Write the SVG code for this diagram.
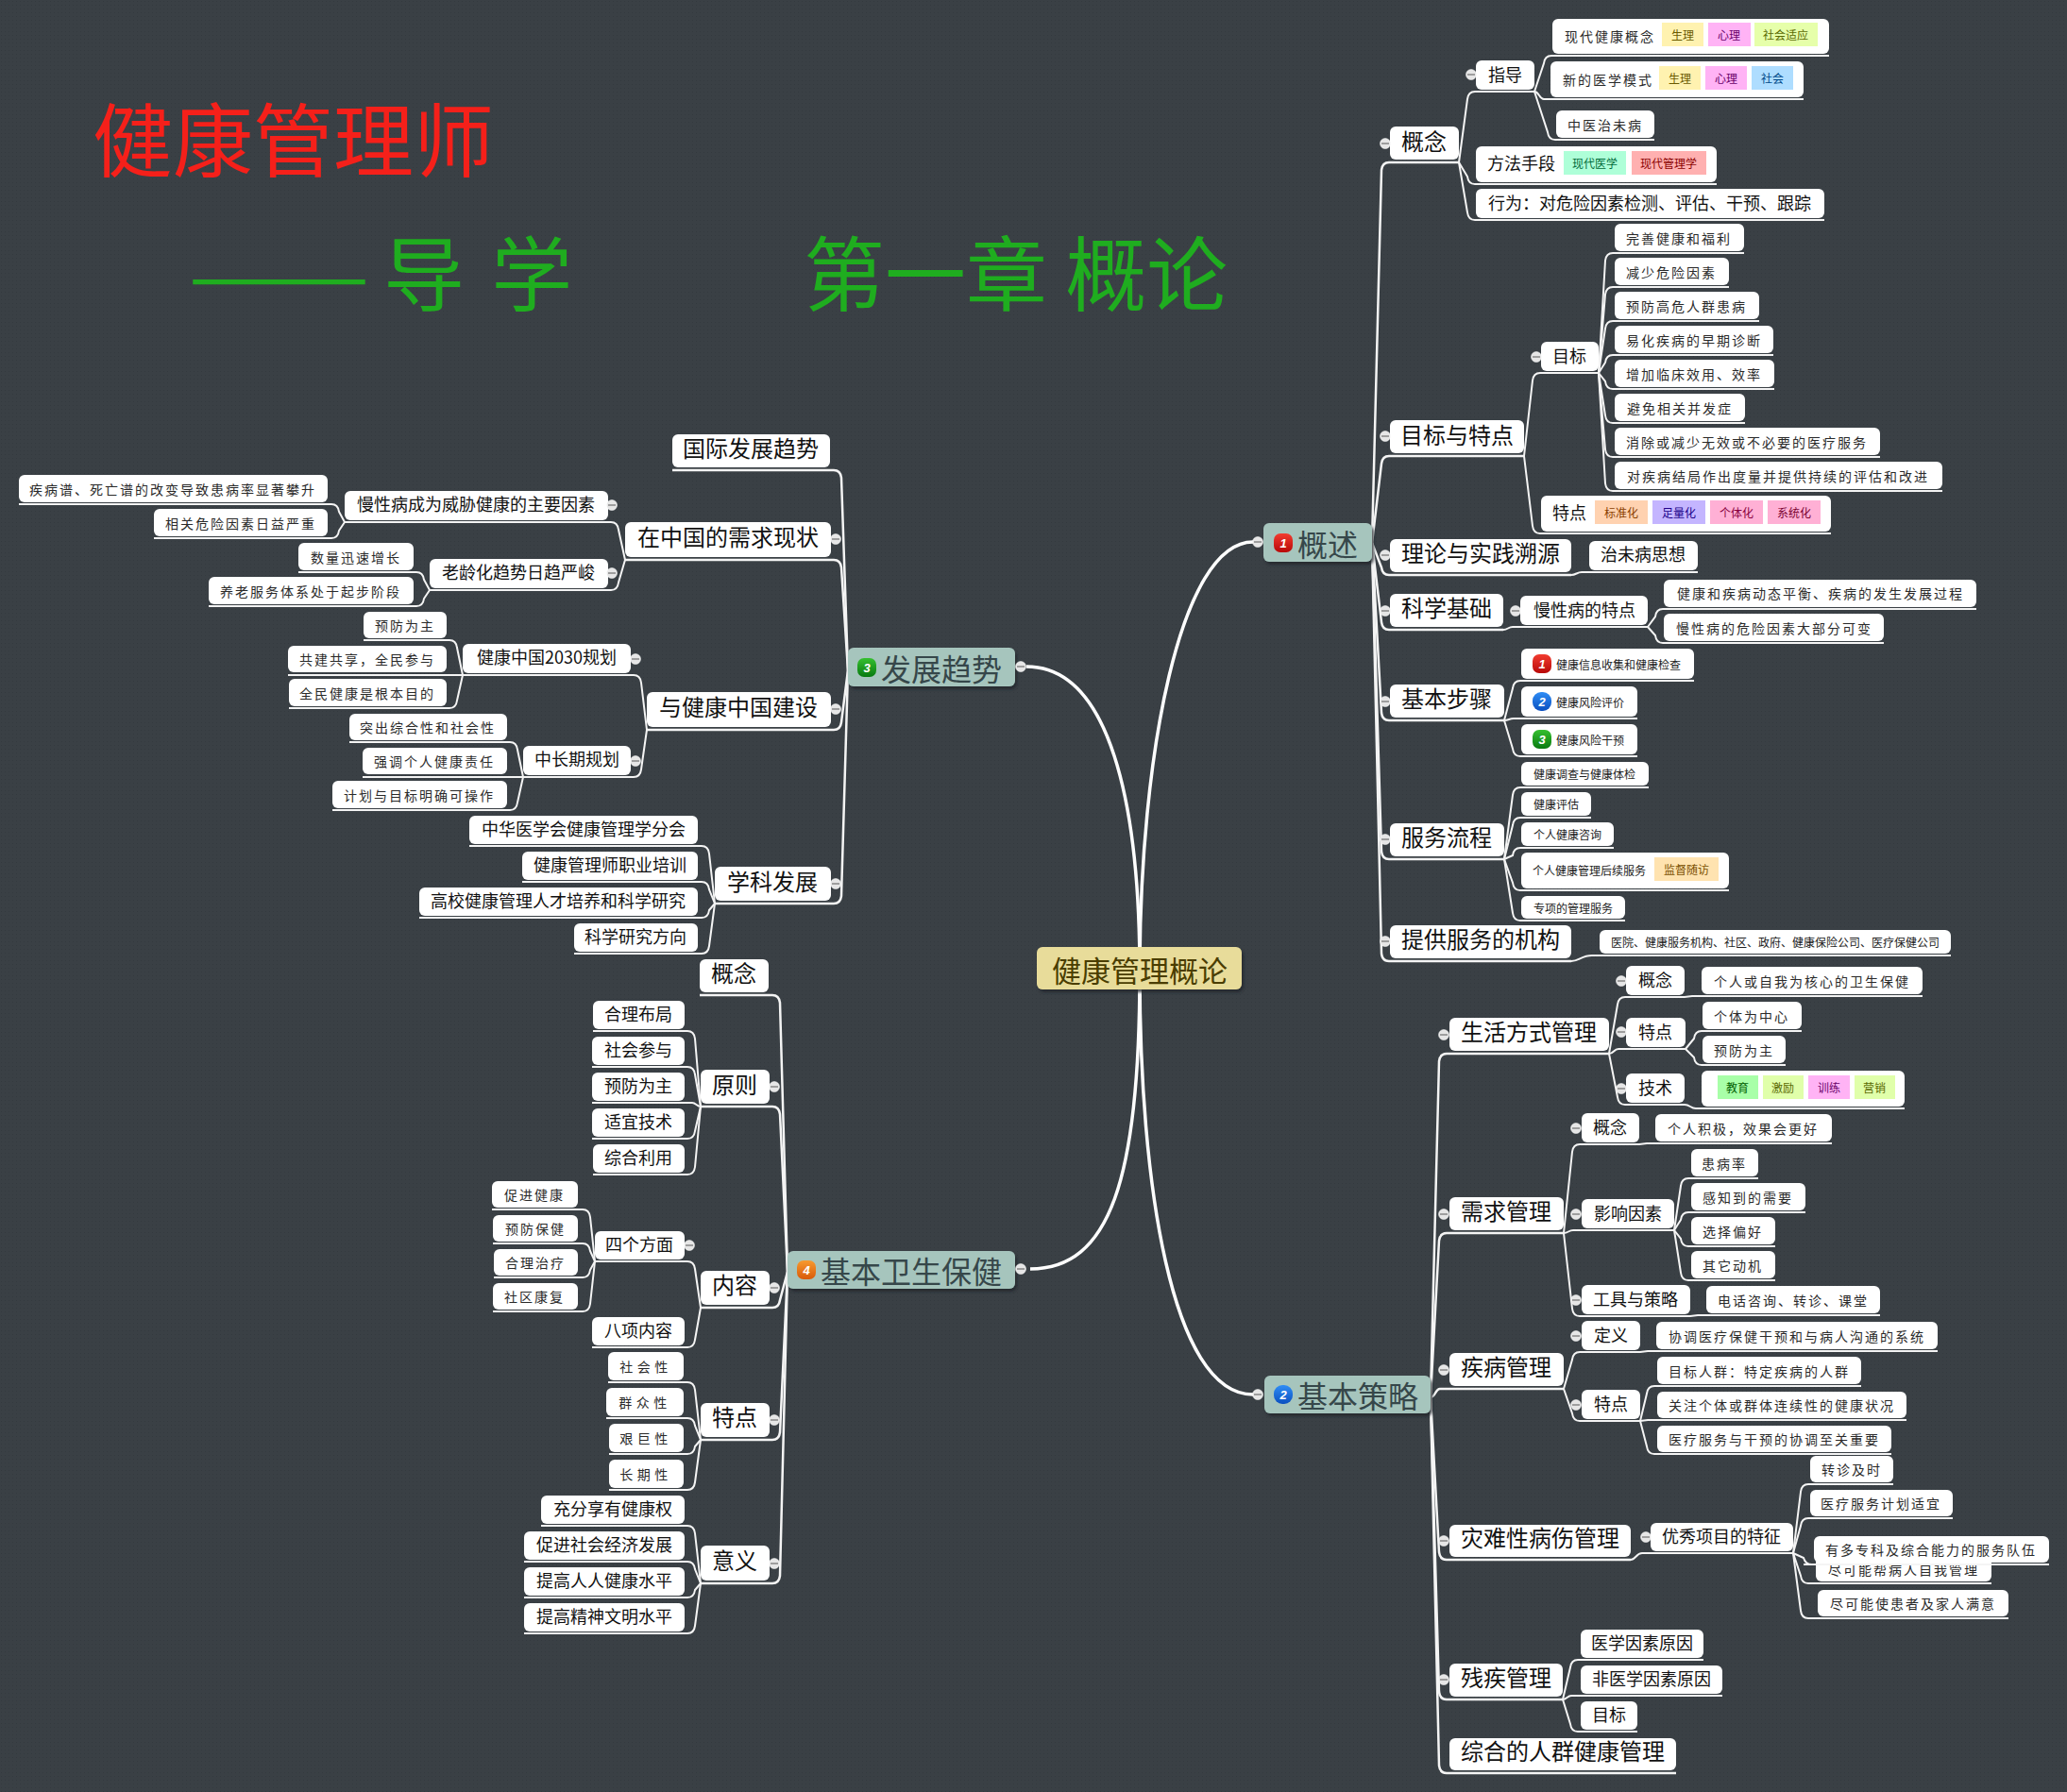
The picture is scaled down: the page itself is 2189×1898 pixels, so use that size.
<svg xmlns="http://www.w3.org/2000/svg" width="2189" height="1898" viewBox="0 0 2189 1898">
<style>
text{font-family:"Noto Sans CJK SC","Liberation Sans",sans-serif;dominant-baseline:central;text-anchor:middle;fill:#111}
.b{fill:#fff;rx:6px;ry:6px}
.l1{fill:#a6c5bd;rx:6px;ry:6px;filter:url(#sh)}
.t1{font-size:32px;fill:#36474a}
.t24{font-size:24px;transform:translateY(-3px)}
.t18{font-size:18px;transform:translateY(-1.5px)}
.t12{font-size:12px;fill:#222}
.k{font-size:14px;letter-spacing:2px;fill:#2a2a2a}
.k3{font-size:14px;letter-spacing:4.5px;fill:#2a2a2a}
.s{text-anchor:start}
.tag{font-size:12px}
.c path{fill:none;stroke:#f4f4f4;stroke-width:2}
.c .r{stroke:#fff;stroke-width:3.5}
.c .m{stroke-width:2.5}
.num{font-family:"Liberation Sans",sans-serif;font-size:13px;font-style:italic;font-weight:bold;fill:#fff}
.title{font-size:85px;transform:translateY(-3px)}
.sub{font-size:86px;fill:#1fad1f;transform:translateY(-3px)}
</style>
<defs>
<pattern id="bg" width="4" height="4" patternUnits="userSpaceOnUse"><rect width="4" height="4" fill="#3a4045"/><rect x="1" y="1" width="1" height="1" fill="#343a3f"/></pattern>
<filter id="sh" x="-5%" y="-10%" width="110%" height="125%"><feDropShadow dx="2" dy="3" stdDeviation="1.5" flood-color="#23282c" flood-opacity="0.8"/></filter>
<linearGradient id="gr" x1="0" y1="0" x2="0" y2="1"><stop offset="0" stop-color="#f23c30"/><stop offset="1" stop-color="#b80808"/></linearGradient>
<linearGradient id="gb" x1="0" y1="0" x2="0" y2="1"><stop offset="0" stop-color="#2f8df5"/><stop offset="1" stop-color="#0b50c0"/></linearGradient>
<linearGradient id="gg" x1="0" y1="0" x2="0" y2="1"><stop offset="0" stop-color="#36c030"/><stop offset="1" stop-color="#087a10"/></linearGradient>
<linearGradient id="go" x1="0" y1="0" x2="0" y2="1"><stop offset="0" stop-color="#f79a30"/><stop offset="1" stop-color="#d95a08"/></linearGradient>
<g id="dot"><circle r="5.5" fill="#e6e6e6" stroke="#fff" stroke-width="0.5"/><rect x="-4" y="-0.8" width="8" height="1.6" fill="#8d8d8d"/></g>
</defs>
<rect width="2189" height="1898" fill="url(#bg)"/>
<g id="titles">
<text class="title s" x="98" y="146" style="fill:#f5201a">健康管理师</text>
<text class="sub s" x="199" y="288" textLength="193" lengthAdjust="spacingAndGlyphs">——</text>
<text class="sub s" x="406" y="288" style="word-spacing:9px">导 学</text>
<text class="sub s" x="851" y="288">第一章 概论</text>
</g>
<g id="connectors" class="c">
<path class="r" d="M1207 1030C1207 850 1175 706 1087 706"/>
<path class="r" d="M1207 1030C1207 800 1250 574 1327 574"/>
<path class="r" d="M1207 1030C1207 1250 1240 1477 1327 1477"/>
<path class="r" d="M1207 1030C1207 1250 1175 1344 1091 1344"/>
<g class="m">
<path class="m" d="M1453 575L1463 180Q1464 172 1471 172H1545"/>
<path class="m" d="M1453 575L1463 491Q1464 483 1471 483H1614"/>
<path class="m" d="M1453 575L1463 601Q1464 609 1471 609H1664"/>
<path class="m" d="M1453 575L1463 659Q1464 667 1471 667H1592"/>
<path class="m" d="M1453 575L1463 755Q1464 763 1471 763H1593"/>
<path class="m" d="M1453 575L1463 902Q1464 910 1471 910H1593"/>
<path class="m" d="M1453 575L1463 1010Q1464 1018 1471 1018H1664"/>
<path class="m" d="M1515 1480L1524 1124Q1525 1116 1532 1116H1704"/>
<path class="m" d="M1515 1480L1524 1314Q1525 1306 1532 1306H1656"/>
<path class="m" d="M1515 1480C1520 1480 1520 1471 1525 1471H1656"/>
<path class="m" d="M1515 1480L1524 1644Q1525 1652 1532 1652H1727"/>
<path class="m" d="M1515 1480L1524 1792Q1525 1800 1532 1800H1655"/>
<path class="m" d="M1515 1480L1524 1870Q1525 1878 1532 1878H1775"/>
<path class="m" d="M898 710L891 506Q890 498 883 498H712"/>
<path class="m" d="M898 710L891 601Q890 593 883 593H662"/>
<path class="m" d="M898 710L891 765Q890 773 883 773H685"/>
<path class="m" d="M898 710L891 949Q890 957 883 957H757"/>
<path class="m" d="M834 1347L826 1062Q825 1054 818 1054H741"/>
<path class="m" d="M834 1347L826 1180Q825 1172 818 1172H742"/>
<path class="m" d="M834 1347L826 1377Q825 1385 818 1385H742"/>
<path class="m" d="M834 1347L826 1517Q825 1525 818 1525H742"/>
<path class="m" d="M834 1347L826 1669Q825 1677 818 1677H742"/>
</g>
<path d="M1545 172L1554 105Q1555 97 1562 97H1625"/>
<path d="M1545 172L1554 187Q1555 195 1562 195H1818"/>
<path d="M1545 172L1554 225Q1555 233 1562 233H1932"/>
<path d="M1625 97L1635 67Q1636 59 1643 59H1937"/>
<path d="M1625 97C1630 97 1630 105 1635 105H1910"/>
<path d="M1625 97L1639 140Q1640 148 1647 148H1752"/>
<path d="M1614 483L1623 403Q1624 395 1631 395H1693"/>
<path d="M1614 483L1623 557Q1624 565 1631 565H1939"/>
<path d="M1693 395L1700 276Q1701 268 1708 268H1847"/>
<path d="M1693 395L1700 312Q1701 304 1708 304H1831"/>
<path d="M1693 395L1700 348Q1701 340 1708 340H1863"/>
<path d="M1693 395L1700 384Q1701 376 1708 376H1878"/>
<path d="M1693 395L1700 404Q1701 412 1708 412H1879"/>
<path d="M1693 395L1700 440Q1701 448 1708 448H1848"/>
<path d="M1693 395L1700 476Q1701 484 1708 484H1991"/>
<path d="M1693 395L1700 512Q1701 520 1708 520H2057"/>
<path d="M1664 609C1669 609 1670 606 1675 606H1798"/>
<path d="M1592 667C1597 667 1597 664 1602 664H1745"/>
<path d="M1745 664L1753 653Q1754 645 1761 645H2093"/>
<path d="M1745 664L1753 673Q1754 681 1761 681H1995"/>
<path d="M1593 763L1602 729Q1603 721 1610 721H1794"/>
<path d="M1593 763C1598 763 1598 761 1603 761H1734"/>
<path d="M1593 763L1602 793Q1603 801 1610 801H1734"/>
<path d="M1593 910L1602 842Q1603 834 1610 834H1746"/>
<path d="M1593 910L1602 874Q1603 866 1610 866H1685"/>
<path d="M1593 910L1602 906Q1603 898 1610 898H1709"/>
<path d="M1593 910L1602 935Q1603 943 1610 943H1831"/>
<path d="M1593 910L1602 967Q1603 975 1610 975H1721"/>
<path d="M1664 1018C1672 1018 1675 1012 1686 1012H2066"/>
<path d="M1704 1116L1713 1064Q1714 1056 1721 1056H1784L1792 1055H2036"/>
<path d="M1704 1116C1709 1116 1709 1111 1714 1111H1785"/>
<path d="M1704 1116L1713 1162Q1714 1170 1721 1170H1784"/>
<path d="M1785 1111L1794 1100Q1795 1092 1802 1092H1908"/>
<path d="M1785 1111L1794 1120Q1795 1128 1802 1128H1891"/>
<path d="M1784 1170C1790 1170 1790 1174 1796 1174H2017"/>
<path d="M1656 1306L1665 1220Q1666 1212 1673 1212H1736L1744 1211H1940"/>
<path d="M1656 1306C1661 1306 1661 1303 1666 1303H1773"/>
<path d="M1656 1306L1665 1386Q1666 1394 1673 1394H1790L1798 1393H1991"/>
<path d="M1773 1303L1780 1256Q1781 1248 1788 1248H1862"/>
<path d="M1773 1303L1780 1292Q1781 1284 1788 1284H1912"/>
<path d="M1773 1303L1780 1312Q1781 1320 1788 1320H1880"/>
<path d="M1773 1303L1780 1348Q1781 1356 1788 1356H1880"/>
<path d="M1656 1471L1665 1440Q1666 1432 1673 1432H1737L1745 1431H2052"/>
<path d="M1656 1471L1665 1497Q1666 1505 1673 1505H1737"/>
<path d="M1737 1505L1744 1476Q1745 1468 1752 1468H1971"/>
<path d="M1737 1505L1745 1504H2019"/>
<path d="M1737 1505L1744 1532Q1745 1540 1752 1540H2003"/>
<path d="M1727 1652C1732 1652 1733 1645 1739 1645H1899"/>
<path d="M1899 1645L1907 1580Q1908 1572 1915 1572H2005"/>
<path d="M1899 1645L1907 1616Q1908 1608 1915 1608H2068"/>
<path d="M1899 1645L1910 1650Q1912 1657 1919 1657H2170"/>
<path d="M1899 1645L1907 1669Q1908 1677 1915 1677H2109"/>
<path d="M1899 1645L1907 1706Q1908 1714 1915 1714H2127"/>
<path d="M1655 1800L1663 1766Q1664 1758 1671 1758H1804"/>
<path d="M1655 1800C1659 1800 1660 1796 1664 1796H1824"/>
<path d="M1655 1800L1663 1826Q1664 1834 1671 1834H1734"/>
<path d="M662 593L655 561Q654 553 647 553H365"/>
<path d="M662 593L655 617Q654 625 647 625H455"/>
<path d="M365 553L359 542Q358 534 351 534H20"/>
<path d="M365 553L359 562Q358 570 351 570H163"/>
<path d="M455 625L449 614Q448 606 441 606H316"/>
<path d="M455 625L449 634Q448 642 441 642H221"/>
<path d="M685 773L679 723Q678 715 671 715H490"/>
<path d="M685 773L679 815Q678 823 671 823H554"/>
<path d="M490 715L484 686Q483 678 476 678H385"/>
<path d="M490 715H305"/>
<path d="M490 715L484 742Q483 750 476 750H306"/>
<path d="M554 823L548 794Q547 786 540 786H370"/>
<path d="M554 823H384"/>
<path d="M554 823L548 850Q547 858 540 858H352"/>
<path d="M757 957L751 904Q750 896 743 896H497"/>
<path d="M757 957L751 942Q750 934 743 934H553"/>
<path d="M757 957L751 964Q750 972 743 972H444"/>
<path d="M757 957L751 1002Q750 1010 743 1010H608"/>
<path d="M742 1172L736 1100Q735 1092 728 1092H628"/>
<path d="M742 1172L736 1138Q735 1130 728 1130H627"/>
<path d="M742 1172C738 1172 737 1168 733 1168H627"/>
<path d="M742 1172L736 1198Q735 1206 728 1206H627"/>
<path d="M742 1172L736 1236Q735 1244 728 1244H628"/>
<path d="M742 1385L736 1344Q735 1336 728 1336H630"/>
<path d="M742 1385L736 1419Q735 1427 728 1427H627"/>
<path d="M630 1336L625 1289Q624 1281 617 1281H521"/>
<path d="M630 1336L625 1325Q624 1317 617 1317H522"/>
<path d="M630 1336L625 1345Q624 1353 617 1353H523"/>
<path d="M630 1336L625 1381Q624 1389 617 1389H522"/>
<path d="M742 1525L736 1472Q735 1464 728 1464H644"/>
<path d="M742 1525L736 1510Q735 1502 728 1502H642"/>
<path d="M742 1525L736 1532Q735 1540 728 1540H645"/>
<path d="M742 1525L736 1570Q735 1578 728 1578H645"/>
<path d="M742 1677L736 1624Q735 1616 728 1616H573"/>
<path d="M742 1677L736 1662Q735 1654 728 1654H555"/>
<path d="M742 1677L736 1684Q735 1692 728 1692H555"/>
<path d="M742 1677L736 1722Q735 1730 728 1730H555"/>
</g>
<g id="root"><rect x="1098" y="1003" width="217" height="45" rx="6" fill="#e8dc9a" filter="url(#sh)"/><text x="1207" y="1026" style="font-size:31px;fill:#4a3d00">健康管理概论</text></g>
<g id="gaishu"><rect class="l1" x="1338" y="554" width="115" height="41"/><rect x="1349" y="565" width="20" height="20" rx="7" fill="url(#gr)"/><text class="num" x="1359" y="575">1</text><text class="t1" x="1406" y="575">概述</text><use href="#dot" x="1332" y="574"/></g>
<g id="celue"><rect class="l1" x="1339" y="1457" width="176" height="40"/><rect x="1349" y="1467" width="20" height="20" rx="9" fill="url(#gb)"/><text class="num" x="1359" y="1477">2</text><text class="t1" x="1438" y="1477">基本策略</text><use href="#dot" x="1332" y="1477"/></g>
<g id="qushi"><rect class="l1" x="898" y="686" width="177" height="41"/><rect x="908" y="697" width="20" height="20" rx="7" fill="url(#gg)"/><text class="num" x="918" y="707">3</text><text class="t1" x="997" y="707">发展趋势</text><use href="#dot" x="1081" y="706"/></g>
<g id="weisheng"><rect class="l1" x="834" y="1325" width="241" height="40"/><rect x="844" y="1335" width="20" height="20" rx="7" fill="url(#go)"/><text class="num" x="854" y="1345">4</text><text class="t1" x="965" y="1345">基本卫生保健</text><use href="#dot" x="1081" y="1344"/></g>

<g id="r1"><rect class="b" x="1472" y="134" width="73" height="35"/><text class="t24" x="1508" y="151">概念</text><use href="#dot" x="1467" y="152"/></g>
<g id="r2"><rect class="b" x="1563" y="64" width="62" height="31"/><text class="t18" x="1594" y="79">指导</text><use href="#dot" x="1558" y="79"/></g>
<g id="r3"><rect class="b" x="1644" y="20" width="293" height="37"/><text class="k s" x="1657" y="38">现代健康概念</text>
<rect x="1760" y="24" width="44" height="25" fill="#fff2b0"/><text class="tag" x="1782" y="36" style="fill:#6b5a00">生理</text>
<rect x="1809" y="24" width="45" height="25" fill="#ffb3f5"/><text class="tag" x="1831" y="36" style="fill:#6a006a">心理</text>
<rect x="1858" y="24" width="67" height="25" fill="#e6ffaa"/><text class="tag" x="1891" y="36" style="fill:#5a6a00">社会适应</text></g>
<g id="r4"><rect class="b" x="1642" y="65" width="268" height="38"/><text class="k s" x="1655" y="84">新的医学模式</text>
<rect x="1757" y="70" width="44" height="25" fill="#fff2b0"/><text class="tag" x="1779" y="82" style="fill:#6b5a00">生理</text>
<rect x="1806" y="70" width="44" height="25" fill="#ffb3f5"/><text class="tag" x="1828" y="82" style="fill:#6a006a">心理</text>
<rect x="1855" y="70" width="44" height="25" fill="#aeddff"/><text class="tag" x="1877" y="82" style="fill:#004a8a">社会</text></g>
<g id="r5"><rect class="b" x="1648" y="117" width="104" height="29"/><text class="k" x="1700" y="132">中医治未病</text></g>
<g id="r6"><rect class="b" x="1563" y="155" width="255" height="38"/><text class="t18 s" x="1575" y="173">方法手段</text>
<rect x="1656" y="160" width="66" height="25" fill="#aeffd8"/><text class="tag" x="1689" y="172" style="fill:#006a3a">现代医学</text>
<rect x="1728" y="160" width="79" height="25" fill="#ffb0b0"/><text class="tag" x="1767" y="172" style="fill:#8a0000">现代管理学</text></g>
<g id="r7"><rect class="b" x="1563" y="200" width="369" height="31"/><text class="t18" x="1747" y="215">行为：对危险因素检测、评估、干预、跟踪</text></g>
<g id="r8"><rect class="b" x="1472" y="445" width="142" height="35"/><text class="t24" x="1543" y="462">目标与特点</text><use href="#dot" x="1467" y="462"/></g>
<g id="r9"><rect class="b" x="1632" y="362" width="61" height="31"/><text class="t18" x="1662" y="377">目标</text><use href="#dot" x="1627" y="378"/></g>
<g id="r10"><rect class="b" x="1710" y="237" width="137" height="29"/><text class="k" x="1778" y="252">完善健康和福利</text></g>
<g id="r11"><rect class="b" x="1710" y="273" width="121" height="29"/><text class="k" x="1770" y="288">减少危险因素</text></g>
<g id="r12"><rect class="b" x="1710" y="309" width="153" height="29"/><text class="k" x="1786" y="324">预防高危人群患病</text></g>
<g id="r13"><rect class="b" x="1710" y="345" width="168" height="29"/><text class="k" x="1794" y="360">易化疾病的早期诊断</text></g>
<g id="r14"><rect class="b" x="1710" y="381" width="169" height="29"/><text class="k" x="1794" y="396">增加临床效用、效率</text></g>
<g id="r15"><rect class="b" x="1710" y="417" width="138" height="29"/><text class="k" x="1779" y="432">避免相关并发症</text></g>
<g id="r16"><rect class="b" x="1710" y="453" width="281" height="29"/><text class="k" x="1850" y="468">消除或减少无效或不必要的医疗服务</text></g>
<g id="r17"><rect class="b" x="1710" y="489" width="347" height="29"/><text class="k" x="1883" y="504">对疾病结局作出度量并提供持续的评估和改进</text></g>
<g id="r18"><rect class="b" x="1632" y="525" width="307" height="38"/><text class="t18 s" x="1644" y="543">特点</text>
<rect x="1689" y="530" width="56" height="25" fill="#ffd2b0"/><text class="tag" x="1717" y="542" style="fill:#8a4000">标准化</text>
<rect x="1750" y="530" width="56" height="25" fill="#c4b5ff"/><text class="tag" x="1778" y="542" style="fill:#20008a">足量化</text>
<rect x="1811" y="530" width="56" height="25" fill="#ffb0d5"/><text class="tag" x="1839" y="542" style="fill:#8a0040">个体化</text>
<rect x="1872" y="530" width="56" height="25" fill="#ffb0d5"/><text class="tag" x="1900" y="542" style="fill:#7a0030">系统化</text></g>
<g id="r19"><rect class="b" x="1472" y="571" width="192" height="35"/><text class="t24" x="1568" y="587">理论与实践溯源</text><use href="#dot" x="1467" y="588"/></g>
<g id="r20"><rect class="b" x="1683" y="573" width="115" height="31"/><text class="t18" x="1740" y="587">治未病思想</text></g>
<g id="r21"><rect class="b" x="1472" y="629" width="120" height="35"/><text class="t24" x="1532" y="645">科学基础</text><use href="#dot" x="1467" y="647"/></g>
<g id="r22"><rect class="b" x="1610" y="631" width="135" height="31"/><text class="t18" x="1678" y="646">慢性病的特点</text><use href="#dot" x="1605" y="647"/></g>
<g id="r23"><rect class="b" x="1762" y="614" width="331" height="29"/><text class="k" x="1928" y="628">健康和疾病动态平衡、疾病的发生发展过程</text></g>
<g id="r24"><rect class="b" x="1762" y="650" width="233" height="29"/><text class="k" x="1879" y="665">慢性病的危险因素大部分可变</text></g>
<g id="r25"><rect class="b" x="1472" y="725" width="121" height="35"/><text class="t24" x="1532" y="741">基本步骤</text><use href="#dot" x="1467" y="743"/></g>
<g id="r26"><rect class="b" x="1611" y="687" width="183" height="32"/><rect x="1623" y="693" width="20" height="20" rx="7" fill="url(#gr)"/><text class="num" x="1633" y="703">1</text><text class="t12 s" x="1648" y="703">健康信息收集和健康检查</text></g>
<g id="r27"><rect class="b" x="1611" y="727" width="123" height="32"/><rect x="1623" y="733" width="20" height="20" rx="9" fill="url(#gb)"/><text class="num" x="1633" y="743">2</text><text class="t12 s" x="1648" y="743">健康风险评价</text></g>
<g id="r28"><rect class="b" x="1611" y="767" width="123" height="32"/><rect x="1623" y="773" width="20" height="20" rx="7" fill="url(#gg)"/><text class="num" x="1633" y="783">3</text><text class="t12 s" x="1648" y="783">健康风险干预</text></g>
<g id="r29"><rect class="b" x="1472" y="872" width="121" height="35"/><text class="t24" x="1532" y="888">服务流程</text><use href="#dot" x="1467" y="889"/></g>
<g id="r30"><rect class="b" x="1611" y="807" width="135" height="25"/><text class="t12" x="1678" y="819">健康调查与健康体检</text></g>
<g id="r31"><rect class="b" x="1611" y="839" width="74" height="25"/><text class="t12" x="1648" y="851">健康评估</text></g>
<g id="r32"><rect class="b" x="1611" y="871" width="98" height="25"/><text class="t12" x="1660" y="883">个人健康咨询</text></g>
<g id="r33"><rect class="b" x="1611" y="903" width="220" height="38"/><text class="t12 s" x="1623" y="921">个人健康管理后续服务</text><rect x="1752" y="908" width="68" height="25" fill="#ffe3b0"/><text class="tag" x="1786" y="920" style="fill:#7a5000">监督随访</text></g>
<g id="r34"><rect class="b" x="1611" y="949" width="110" height="24"/><text class="t12" x="1666" y="961">专项的管理服务</text></g>
<g id="r35"><rect class="b" x="1472" y="980" width="192" height="35"/><text class="t24" x="1568" y="996">提供服务的机构</text><use href="#dot" x="1467" y="997"/></g>
<g id="r36"><rect class="b" x="1694" y="985" width="372" height="25"/><text class="t12" x="1880" y="997">医院、健康服务机构、社区、政府、健康保险公司、医疗保健公司</text></g>

<g id="s1"><rect class="b" x="1535" y="1078" width="169" height="35"/><text class="t24" x="1619" y="1094">生活方式管理</text><use href="#dot" x="1529" y="1096"/></g>
<g id="s2"><rect class="b" x="1722" y="1023" width="62" height="31"/><text class="t18" x="1753" y="1038">概念</text><use href="#dot" x="1717" y="1039"/></g>
<g id="s3"><rect class="b" x="1802" y="1024" width="234" height="29"/><text class="k" x="1919" y="1039">个人或自我为核心的卫生保健</text></g>
<g id="s4"><rect class="b" x="1722" y="1078" width="63" height="31"/><text class="t18" x="1753" y="1093">特点</text><use href="#dot" x="1717" y="1093"/></g>
<g id="s5"><rect class="b" x="1803" y="1061" width="105" height="29"/><text class="k" x="1855" y="1076">个体为中心</text></g>
<g id="s6"><rect class="b" x="1803" y="1097" width="88" height="29"/><text class="k" x="1847" y="1112">预防为主</text></g>
<g id="s7"><rect class="b" x="1722" y="1137" width="62" height="31"/><text class="t18" x="1753" y="1152">技术</text><use href="#dot" x="1717" y="1153"/></g>
<g id="s8"><rect class="b" x="1802" y="1134" width="215" height="38"/>
<rect x="1819" y="1139" width="43" height="25" fill="#a8ffa8"/><text class="tag" x="1840" y="1151" style="fill:#006000">教育</text>
<rect x="1867" y="1139" width="43" height="25" fill="#e0ffaa"/><text class="tag" x="1888" y="1151" style="fill:#5a6a00">激励</text>
<rect x="1915" y="1139" width="44" height="25" fill="#ffb3f5"/><text class="tag" x="1937" y="1151" style="fill:#6a006a">训练</text>
<rect x="1964" y="1139" width="43" height="25" fill="#e0ffaa"/><text class="tag" x="1985" y="1151" style="fill:#5a6a00">营销</text></g>
<g id="s9"><rect class="b" x="1535" y="1268" width="121" height="35"/><text class="t24" x="1595" y="1284">需求管理</text><use href="#dot" x="1529" y="1286"/></g>
<g id="s10"><rect class="b" x="1675" y="1179" width="61" height="31"/><text class="t18" x="1705" y="1194">概念</text><use href="#dot" x="1669" y="1195"/></g>
<g id="s11"><rect class="b" x="1753" y="1180" width="187" height="29"/><text class="k" x="1846" y="1195">个人积极，效果会更好</text></g>
<g id="s12"><rect class="b" x="1675" y="1270" width="98" height="31"/><text class="t18" x="1724" y="1285">影响因素</text><use href="#dot" x="1669" y="1286"/></g>
<g id="s13"><rect class="b" x="1791" y="1217" width="71" height="29"/><text class="k" x="1826" y="1232">患病率</text></g>
<g id="s14"><rect class="b" x="1791" y="1253" width="121" height="29"/><text class="k" x="1851" y="1268">感知到的需要</text></g>
<g id="s15"><rect class="b" x="1791" y="1289" width="89" height="29"/><text class="k" x="1835" y="1304">选择偏好</text></g>
<g id="s16"><rect class="b" x="1791" y="1325" width="89" height="29"/><text class="k" x="1835" y="1340">其它动机</text></g>
<g id="s17"><rect class="b" x="1675" y="1361" width="115" height="31"/><text class="t18" x="1732" y="1376">工具与策略</text><use href="#dot" x="1669" y="1377"/></g>
<g id="s18"><rect class="b" x="1807" y="1362" width="184" height="29"/><text class="k" x="1899" y="1377">电话咨询、转诊、课堂</text></g>
<g id="s19"><rect class="b" x="1535" y="1433" width="121" height="35"/><text class="t24" x="1595" y="1449">疾病管理</text><use href="#dot" x="1529" y="1451"/></g>
<g id="s20"><rect class="b" x="1675" y="1399" width="62" height="31"/><text class="t18" x="1706" y="1414">定义</text><use href="#dot" x="1669" y="1415"/></g>
<g id="s21"><rect class="b" x="1754" y="1400" width="298" height="29"/><text class="k" x="1903" y="1415">协调医疗保健干预和与病人沟通的系统</text></g>
<g id="s22"><rect class="b" x="1675" y="1472" width="62" height="31"/><text class="t18" x="1706" y="1487">特点</text><use href="#dot" x="1669" y="1488"/></g>
<g id="s23"><rect class="b" x="1755" y="1437" width="216" height="29"/><text class="k" x="1863" y="1452">目标人群：特定疾病的人群</text></g>
<g id="s24"><rect class="b" x="1755" y="1474" width="264" height="28"/><text class="k" x="1887" y="1488">关注个体或群体连续性的健康状况</text></g>
<g id="s25"><rect class="b" x="1755" y="1510" width="248" height="28"/><text class="k" x="1879" y="1524">医疗服务与干预的协调至关重要</text></g>
<g id="s26"><rect class="b" x="1535" y="1615" width="192" height="34"/><text class="t24" x="1631" y="1630">灾难性病伤管理</text><use href="#dot" x="1529" y="1632"/></g>
<g id="s27"><rect class="b" x="1748" y="1613" width="151" height="30"/><text class="t18" x="1823" y="1627">优秀项目的特征</text><use href="#dot" x="1743" y="1628"/></g>
<g id="s28"><rect class="b" x="1917" y="1542" width="88" height="28"/><text class="k" x="1961" y="1556">转诊及时</text></g>
<g id="s29"><rect class="b" x="1917" y="1578" width="151" height="28"/><text class="k" x="1992" y="1592">医疗服务计划适宜</text></g>
<g id="s31"><rect class="b" x="1923" y="1646" width="186" height="29"/><text class="k" x="2016" y="1662">尽可能帮病人自我管理</text></g>
<g id="s30"><rect class="b" x="1921" y="1627" width="249" height="28"/><text class="k" x="2045" y="1641">有多专科及综合能力的服务队伍</text></g>
<path d="M1910 1657H2170" fill="none" stroke="#f4f4f4" stroke-width="2"/>
<g id="s32"><rect class="b" x="1925" y="1684" width="202" height="28"/><text class="k" x="2026" y="1698">尽可能使患者及家人满意</text></g>
<g id="s33"><rect class="b" x="1535" y="1762" width="120" height="35"/><text class="t24" x="1595" y="1778">残疾管理</text><use href="#dot" x="1529" y="1779"/></g>
<g id="s34"><rect class="b" x="1674" y="1726" width="130" height="30"/><text class="t18" x="1739" y="1740">医学因素原因</text></g>
<g id="s35"><rect class="b" x="1674" y="1764" width="150" height="30"/><text class="t18" x="1749" y="1778">非医学因素原因</text></g>
<g id="s36"><rect class="b" x="1674" y="1802" width="60" height="30"/><text class="t18" x="1704" y="1816">目标</text></g>
<g id="s37"><rect class="b" x="1535" y="1841" width="240" height="34"/><text class="t24" x="1655" y="1856">综合的人群健康管理</text></g>

<g id="t1"><rect class="b" x="712" y="460" width="167" height="35"/><text class="t24" x="795" y="476">国际发展趋势</text></g>
<g id="t2"><rect class="b" x="662" y="553" width="218" height="37"/><text class="t24" x="771" y="570">在中国的需求现状</text><use href="#dot" x="885" y="571"/></g>
<g id="t3"><rect class="b" x="365" y="520" width="279" height="31"/><text class="t18" x="504" y="534">慢性病成为威胁健康的主要因素</text><use href="#dot" x="648" y="535"/></g>
<g id="t4"><rect class="b" x="20" y="503" width="327" height="29"/><text class="k" x="183" y="518">疾病谱、死亡谱的改变导致患病率显著攀升</text></g>
<g id="t5"><rect class="b" x="163" y="539" width="184" height="29"/><text class="k" x="255" y="554">相关危险因素日益严重</text></g>
<g id="t6"><rect class="b" x="455" y="592" width="189" height="31"/><text class="t18" x="549" y="606">老龄化趋势日趋严峻</text><use href="#dot" x="648" y="607"/></g>
<g id="t7"><rect class="b" x="316" y="575" width="122" height="29"/><text class="k" x="377" y="590">数量迅速增长</text></g>
<g id="t8"><rect class="b" x="221" y="611" width="217" height="29"/><text class="k" x="329" y="626">养老服务体系处于起步阶段</text></g>
<g id="t9"><rect class="b" x="685" y="733" width="195" height="37"/><text class="t24" x="782" y="750">与健康中国建设</text><use href="#dot" x="885" y="751"/></g>
<g id="t10"><rect class="b" x="490" y="682" width="178" height="31"/><text class="t18" x="579" y="696">健康中国2030规划</text><use href="#dot" x="673" y="698"/></g>
<g id="t11"><rect class="b" x="385" y="648" width="88" height="28"/><text class="k" x="429" y="662">预防为主</text></g>
<g id="t12"><rect class="b" x="305" y="684" width="168" height="28"/><text class="k" x="389" y="698">共建共享，全民参与</text></g>
<g id="t13"><rect class="b" x="306" y="719" width="167" height="29"/><text class="k" x="389" y="734">全民健康是根本目的</text></g>
<g id="t14"><rect class="b" x="554" y="790" width="114" height="31"/><text class="t18" x="611" y="804">中长期规划</text><use href="#dot" x="673" y="806"/></g>
<g id="t15"><rect class="b" x="370" y="756" width="167" height="28"/><text class="k" x="453" y="770">突出综合性和社会性</text></g>
<g id="t16"><rect class="b" x="384" y="792" width="153" height="28"/><text class="k" x="460" y="806">强调个人健康责任</text></g>
<g id="t17"><rect class="b" x="352" y="827" width="185" height="29"/><text class="k" x="444" y="842">计划与目标明确可操作</text></g>
<g id="t18"><rect class="b" x="757" y="918" width="123" height="36"/><text class="t24" x="818" y="935">学科发展</text><use href="#dot" x="885" y="936"/></g>
<g id="t19"><rect class="b" x="497" y="864" width="242" height="30"/><text class="t18" x="618" y="878">中华医学会健康管理学分会</text></g>
<g id="t20"><rect class="b" x="553" y="902" width="186" height="30"/><text class="t18" x="646" y="916">健康管理师职业培训</text></g>
<g id="t21"><rect class="b" x="444" y="940" width="295" height="30"/><text class="t18" x="591" y="954">高校健康管理人才培养和科学研究</text></g>
<g id="t22"><rect class="b" x="608" y="978" width="131" height="30"/><text class="t18" x="673" y="992">科学研究方向</text></g>

<g id="w1"><rect class="b" x="741" y="1016" width="73" height="35"/><text class="t24" x="777" y="1032">概念</text></g>
<g id="w2"><rect class="b" x="742" y="1133" width="73" height="36"/><text class="t24" x="778" y="1150">原则</text><use href="#dot" x="820" y="1151"/></g>
<g id="w3"><rect class="b" x="628" y="1060" width="97" height="30"/><text class="t18" x="676" y="1074">合理布局</text></g>
<g id="w4"><rect class="b" x="627" y="1098" width="98" height="30"/><text class="t18" x="676" y="1112">社会参与</text></g>
<g id="w5"><rect class="b" x="627" y="1136" width="98" height="30"/><text class="t18" x="676" y="1150">预防为主</text></g>
<g id="w6"><rect class="b" x="627" y="1174" width="98" height="30"/><text class="t18" x="676" y="1188">适宜技术</text></g>
<g id="w7"><rect class="b" x="628" y="1212" width="97" height="30"/><text class="t18" x="676" y="1226">综合利用</text></g>
<g id="w8"><rect class="b" x="742" y="1346" width="73" height="36"/><text class="t24" x="778" y="1362">内容</text><use href="#dot" x="820" y="1364"/></g>
<g id="w9"><rect class="b" x="630" y="1304" width="95" height="30"/><text class="t18" x="677" y="1318">四个方面</text><use href="#dot" x="730" y="1319"/></g>
<g id="w10"><rect class="b" x="521" y="1251" width="91" height="28"/><text class="k" x="566" y="1265">促进健康</text></g>
<g id="w11"><rect class="b" x="522" y="1287" width="90" height="28"/><text class="k" x="567" y="1301">预防保健</text></g>
<g id="w12"><rect class="b" x="523" y="1323" width="89" height="28"/><text class="k" x="567" y="1337">合理治疗</text></g>
<g id="w13"><rect class="b" x="522" y="1359" width="90" height="28"/><text class="k" x="566" y="1373">社区康复</text></g>
<g id="w14"><rect class="b" x="627" y="1395" width="98" height="30"/><text class="t18" x="676" y="1409">八项内容</text></g>
<g id="w15"><rect class="b" x="742" y="1486" width="73" height="36"/><text class="t24" x="778" y="1502">特点</text><use href="#dot" x="820" y="1504"/></g>
<g id="w16"><rect class="b" x="644" y="1432" width="80" height="30"/><text class="k3" x="684" y="1447">社会性</text></g>
<g id="w17"><rect class="b" x="642" y="1470" width="82" height="30"/><text class="k3" x="683" y="1485">群众性</text></g>
<g id="w18"><rect class="b" x="645" y="1508" width="79" height="30"/><text class="k3" x="684" y="1523">艰巨性</text></g>
<g id="w19"><rect class="b" x="645" y="1546" width="79" height="30"/><text class="k3" x="684" y="1561">长期性</text></g>
<g id="w20"><rect class="b" x="742" y="1637" width="73" height="37"/><text class="t24" x="778" y="1654">意义</text><use href="#dot" x="820" y="1656"/></g>
<g id="w21"><rect class="b" x="573" y="1584" width="152" height="30"/><text class="t18" x="649" y="1598">充分享有健康权</text></g>
<g id="w22"><rect class="b" x="555" y="1622" width="170" height="30"/><text class="t18" x="640" y="1636">促进社会经济发展</text></g>
<g id="w23"><rect class="b" x="555" y="1660" width="170" height="30"/><text class="t18" x="640" y="1674">提高人人健康水平</text></g>
<g id="w24"><rect class="b" x="555" y="1698" width="170" height="30"/><text class="t18" x="640" y="1712">提高精神文明水平</text></g>
</svg>
